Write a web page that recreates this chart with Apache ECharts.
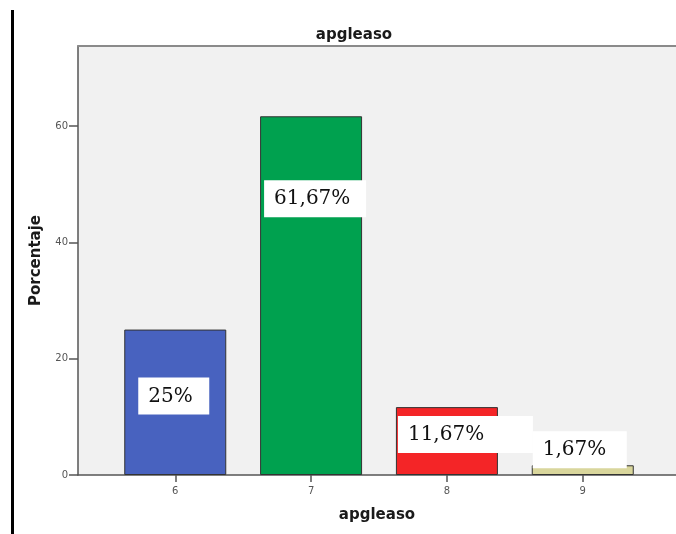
<!DOCTYPE html>
<html>
<head>
<meta charset="utf-8">
<script src="https://cdn.jsdelivr.net/npm/echarts@6/dist/echarts.min.js"></script>
<style>
  html, body { margin: 0; padding: 0; background: #ffffff; }
  #chart { width: 676px; height: 534px; }
</style>
</head>
<body>
<div id="chart"></div>
<script>
// apgleaso score categories and percentage of cases
const categories = [6, 7, 8, 9];
const percentages = [25, 61.67, 11.67, 1.67];
const percentLabels = ['25%', '61,67%', '11,67%', '1,67%'];
const yTicks = [0, 20, 40, 60];

const barColors = ['#4862bf', '#00a14f', '#f42527', '#d9d69c'];
// white annotation boxes: offset from the bar's top-left corner and box width
const boxStyle = [
  { dx: 14, dy: 48, w: 71 },
  { dx: 4, dy: 64, w: 102 },
  { dx: 2, dy: 9, w: 135 },
  { dx: 1, dy: -34, w: 94 }
];

const chart = echarts.init(document.getElementById('chart'));

const barData = categories.map((c, i) => ({
  value: [c, percentages[i]],
  itemStyle: { color: barColors[i] },
  label: {
    show: true,
    position: [boxStyle[i].dx, boxStyle[i].dy],
    formatter: percentLabels[i],
    backgroundColor: '#ffffff',
    color: '#111111',
    fontFamily: 'DejaVu Serif',
    fontSize: 20,
    lineHeight: 20,
    width: boxStyle[i].w - 10,
    padding: [9, 0, 8, 10],
    align: 'left',
    verticalAlign: 'top'
  }
}));

const axisGray = '#555555';

chart.setOption({
  animation: false,
  backgroundColor: '#ffffff',
  title: {
    text: 'apgleaso',
    left: 349,
    top: 23,
    textAlign: 'center',
    textStyle: { fontFamily: 'DejaVu Sans', fontSize: 15, fontWeight: 'bold', color: '#1a1a1a' }
  },
  grid: {
    left: 78, top: 46, right: 0, height: 429,
    show: true,
    backgroundColor: '#f1f1f1',
    borderWidth: 0
  },
  xAxis: [{
    type: 'value',
    min: 5.284,
    max: 9.6865,
    name: 'apgleaso',
    nameLocation: 'middle',
    nameGap: 33,
    nameTextStyle: { fontFamily: 'DejaVu Sans', fontSize: 15, fontWeight: 'bold', color: '#1a1a1a' },
    axisLine: { show: true, lineStyle: { color: axisGray, width: 1.5 } },
    axisTick: { show: true, length: 7, customValues: categories, lineStyle: { color: axisGray, width: 1.5 } },
    axisLabel: {
      customValues: categories,
      color: axisGray, fontFamily: 'DejaVu Sans', fontSize: 10, margin: 11
    },
    splitLine: { show: false }
  }, {
    // top frame of the plot area
    type: 'value',
    position: 'top',
    min: 5.284,
    max: 9.6865,
    axisLine: { show: true, lineStyle: { color: '#8a8a8a', width: 2 } },
    axisTick: { show: false },
    axisLabel: { show: false },
    splitLine: { show: false }
  }],
  yAxis: {
    type: 'value',
    min: 0,
    max: 73.75,
    interval: 20,
    name: 'Porcentaje',
    nameLocation: 'middle',
    nameGap: 34,
    nameTextStyle: { fontFamily: 'DejaVu Sans', fontSize: 15, fontWeight: 'bold', color: '#1a1a1a' },
    axisLine: { show: true, lineStyle: { color: axisGray, width: 1.5 } },
    axisTick: { show: true, length: 9, customValues: yTicks, lineStyle: { color: axisGray, width: 1.5 } },
    axisLabel: {
      customValues: yTicks,
      color: axisGray, fontFamily: 'DejaVu Sans', fontSize: 10, margin: 10
    },
    splitLine: { show: false }
  },
  graphic: [{
    type: 'line',
    shape: { x1: 12.5, y1: 10, x2: 12.5, y2: 534 },
    style: { stroke: '#000000', lineWidth: 3 }
  }],
  series: [{
    type: 'bar',
    xAxisIndex: 0,
    barWidth: 102,
    data: barData,
    itemStyle: { borderColor: '#333333', borderWidth: 1 }
  }]
});
</script>
</body>
</html>
